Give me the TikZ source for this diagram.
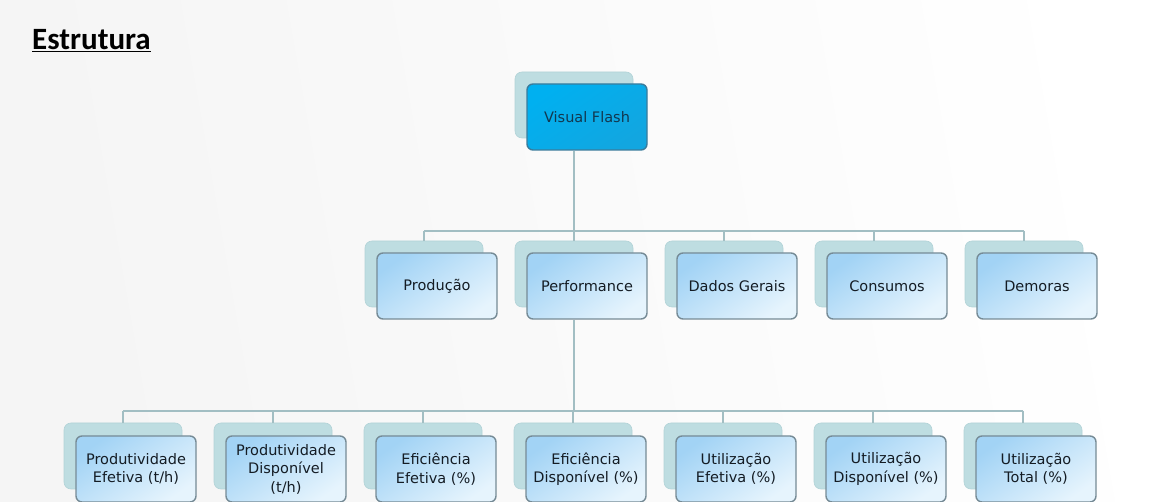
\documentclass[tikz,border=0pt]{standalone}
\usepackage{fontspec}
\setmainfont{DejaVu Sans}
\newfontfamily\titlefont{Carlito}
\usetikzlibrary{calc}
\definecolor{backfill}{HTML}{BEDDE1}
\definecolor{backline}{HTML}{B2D3D7}
\definecolor{frontA}{HTML}{A2D3F5}
\definecolor{frontB}{HTML}{E6F4FD}
\definecolor{frontline}{HTML}{768B96}
\definecolor{topfill}{HTML}{00B0F0}
\definecolor{topfillB}{HTML}{12A6E0}
\definecolor{topline}{HTML}{3A7C9C}
\definecolor{connc}{HTML}{A2BEC3}
\definecolor{txt}{HTML}{141C24}
\definecolor{toptxt}{HTML}{123850}
\tikzset{
  backbox/.style={draw=backline, line width=0.6pt, fill=backfill, rounded corners=7pt,
    minimum width=118pt, minimum height=66pt, inner sep=0pt},
  frontbox/.style={draw=frontline, line width=1.4pt, rounded corners=6pt,
    top color=frontA, bottom color=frontB, shading angle=35,
    minimum width=120pt, minimum height=66pt, inner sep=0pt, align=center,
    font=\fontsize{14.5}{18.5}\selectfont, text=txt},
  topbox/.style={frontbox, top color=topfill, bottom color=topfillB, shading angle=35,
    draw=topline, text=toptxt},
  conn/.style={draw=connc, line width=1.9pt},
}
\begin{document}
\begin{tikzpicture}[x=1pt,y=-1pt]
\shade[left color=black!4, right color=white, shading angle=100]
  (0,0) rectangle (1168,502);
\useasboundingbox (0,0) rectangle (1168,502);

\node[anchor=base west, inner sep=0pt, font=\titlefont\bfseries\fontsize{31}{34}\selectfont, text=black]
  (title) at (32,50) {\underline{Estrutura}};

\coordinate (bus1) at (0,231);
\coordinate (bus2) at (0,411);

% top
\node[backbox] (vfb) at (574,105) {};
\node[topbox] (vf) at (587,117) {Visual Flash};

% row 2 backs
\foreach \i/\x in {1/424,2/574,3/724,4/874,5/1024}{
  \node[backbox] (pb\i) at (\x,274) {};
}
% row 3 backs
\foreach \i/\x in {1/123,2/273,3/423,4/573,5/723,6/873,7/1023}{
  \node[backbox] (qb\i) at (\x,456) {};
}

% connectors
\draw[conn] (vfb.center |- vf.south) -- (vfb.center |- bus1);
\draw[conn] (pb1.north |- bus1) -- (pb5.north |- bus1);
\foreach \i in {1,...,5}{ \draw[conn] (pb\i.north |- bus1) -- (pb\i.north); }

% row 2 fronts
\node[frontbox] (p1) at (437,286) {Produção};
\node[frontbox] (p2) at (587,286) {Performance};
\node[frontbox] (p3) at (737,286) {Dados Gerais};
\node[frontbox] (p4) at (887,286) {Consumos};
\node[frontbox] (p5) at (1037,286) {Demoras};

\draw[conn] (pb2.center |- p2.south) -- (pb2.center |- bus2);
\draw[conn] (qb1.north |- bus2) -- (qb7.north |- bus2);
\foreach \i in {1,...,7}{ \draw[conn] (qb\i.north |- bus2) -- (qb\i.north); }

% row 3 fronts
\node[frontbox] (q1) at (136,469) {Produtividade\\Efetiva (t/h)};
\node[frontbox] (q2) at (286,469) {Produtividade\\Disponível\\(t/h)};
\node[frontbox] (q3) at (436,469) {Eficiência\\Efetiva (\%)};
\node[frontbox] (q4) at (586,469) {Eficiência\\Disponível (\%)};
\node[frontbox] (q5) at (736,469) {Utilização\\Efetiva (\%)};
\node[frontbox] (q6) at (886,469) {Utilização\\Disponível (\%)};
\node[frontbox] (q7) at (1036,469) {Utilização\\Total (\%)};
\end{tikzpicture}
\end{document}
